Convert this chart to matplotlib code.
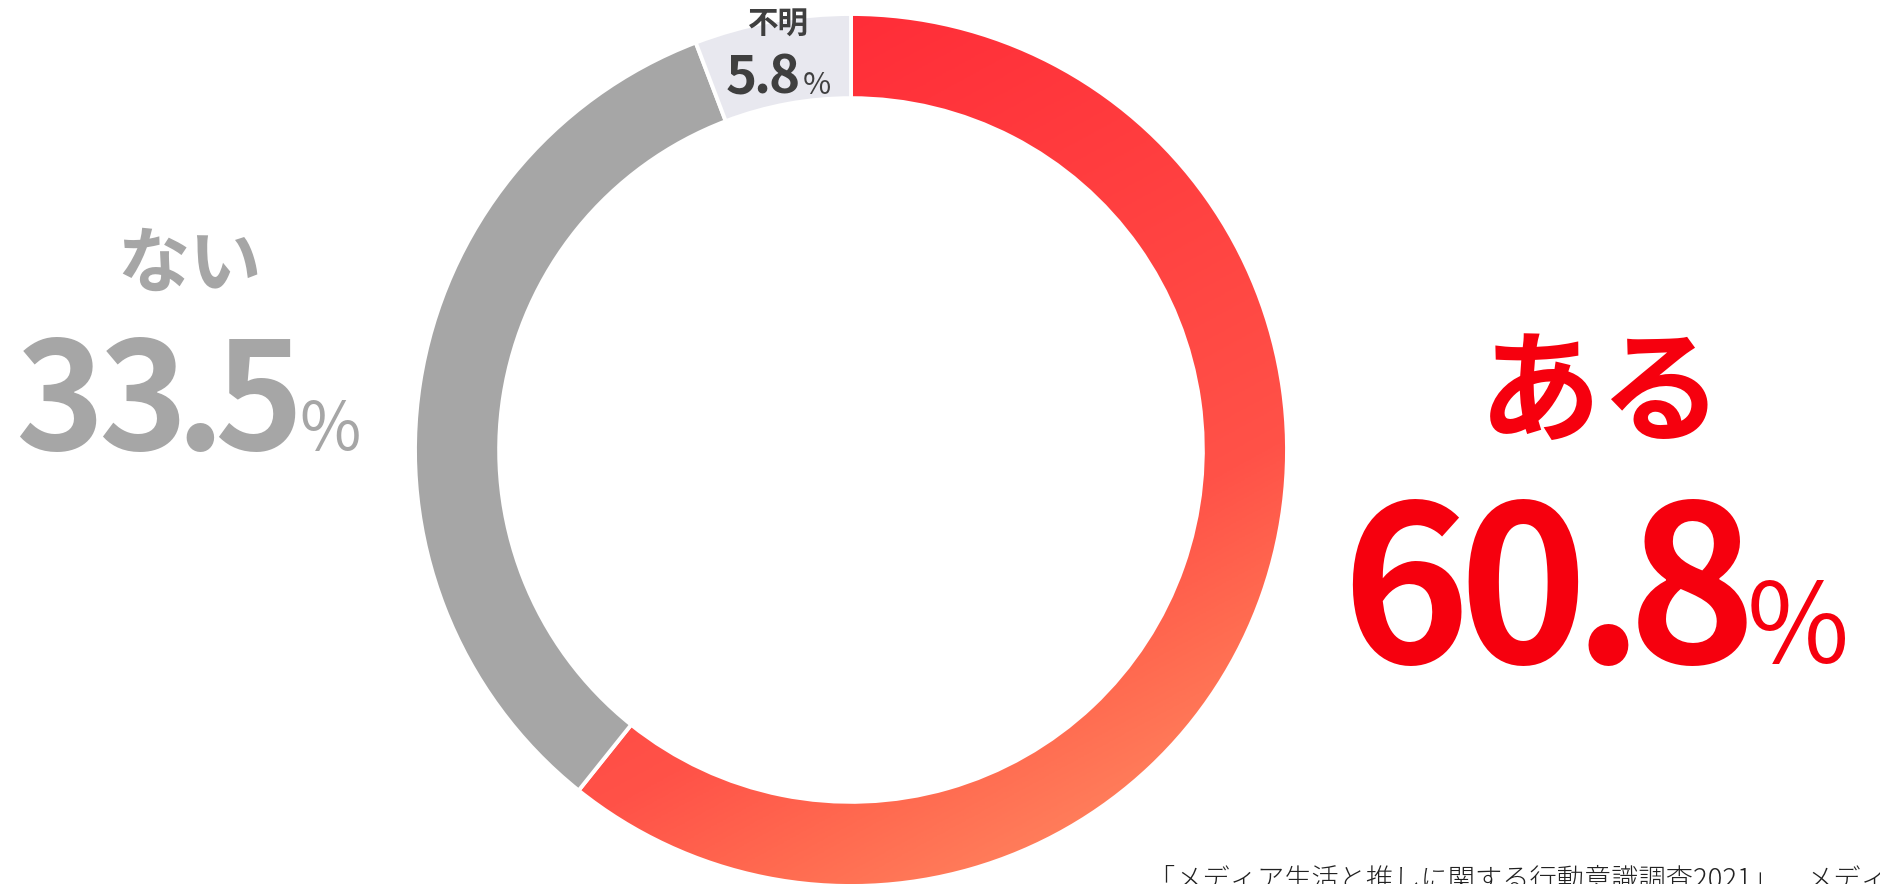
import matplotlib
matplotlib.use("Agg")
import matplotlib.pyplot as plt
import numpy as np
from matplotlib.colors import LinearSegmentedColormap

plt.rcParams["font.family"] = ["Noto Sans CJK JP", "DejaVu Sans"]

# answer shares
labels = ["ある", "ない", "不明"]
values = [60.8, 33.5, 5.8]
value_texts = ["60.8", "33.5", "5.8"]
source = "「メディア生活と推しに関する行動意識調査2021」　メディア環境研究所"

W, H = 1881, 884
fig = plt.figure(figsize=(W / 100, H / 100), dpi=100)
fig.patch.set_facecolor("white")

# donut axes placed in pixels
cx, cy, R = 851, 450, 436
ax = fig.add_axes([(cx - R) / W, (H - cy - R) / H, 2 * R / W, 2 * R / H])
ax.set_aspect("equal")
ax.axis("off")

wedges, _ = ax.pie(values, startangle=90, counterclock=False, radius=1,
                   colors=["#FF3A3F", "#A6A6A6", "#E8E8EF"],
                   wedgeprops=dict(width=0.193, edgecolor="white",
                                   linewidth=2.8))
ax.set_xlim(-1, 1)
ax.set_ylim(-1, 1)

# diagonal red-to-coral gradient inside the first segment
gx, gy = np.meshgrid(np.linspace(-1, 1, 600), np.linspace(-1, 1, 600))
proj = gx * 0.48 - gy * 0.88
grad_cmap = LinearSegmentedColormap.from_list(
    "grad", [(0.0, "#FF2834"), (0.06, "#FF2D38"), (0.73, "#FF5248"),
             (0.88, "#FF6A50"), (1.0, "#FF7C5A")])
img = ax.imshow(proj, cmap=grad_cmap, vmin=-1, vmax=1, origin="lower",
                extent=[-1, 1, -1, 1], zorder=0.5, interpolation="bilinear")
img.set_clip_path(wedges[0])
wedges[0].set_facecolor("none")
wedges[0].set_zorder(1)


def px(x, y):
    return x / W, 1 - y / H


def ink_span(ch, size, weight):
    # where the glyph's ink lands relative to the text anchor, in pixels
    sf = plt.figure(figsize=(6, 4), dpi=100)
    sf.text(0.1, 0.3, ch, fontsize=size, fontweight=weight, color="black",
            ha="left", va="baseline")
    sf.canvas.draw()
    a = np.asarray(sf.canvas.buffer_rgba())[:, :, 0]
    cols = np.where((a < 250).any(axis=0))[0]
    plt.close(sf)
    return cols.min() - 60, cols.max() + 1 - 60


def value_label(x, y, num, size, pct_size, color, gaps):
    # glyph-by-glyph numerals; gaps are ink-to-ink spaces, the last one
    # before the percent sign
    glyphs = [(ch, size, "bold") for ch in num] + [("%", pct_size, "normal")]
    for (ch, sz, wt), gap in zip(glyphs, [0] + list(gaps)):
        lo, hi = ink_span(ch, sz, wt)
        x += gap
        fig.text(*px(x - lo, y), ch, fontsize=sz, fontweight=wt,
                 color=color, ha="left", va="baseline")
        x += hi - lo


# ある
fig.text(*px(1601, 396), labels[0], fontsize=88, fontweight="bold",
         color="#F6000E", ha="center", va="center")
value_label(1352, 663, value_texts[0], 157, 80, "#F6000E", [6, 10, 8, 4])

# ない
fig.text(*px(190, 266), labels[1], fontsize=52, fontweight="bold",
         color="#A6A6A6", ha="center", va="center")
value_label(20, 450, value_texts[1], 108, 48, "#A6A6A6", [6, 6, 4, 6])

# 不明
fig.text(*px(778, 25), labels[2], fontsize=22, fontweight="bold",
         color="#3F3F3F", ha="center", va="center")
value_label(727, 94, value_texts[2], 38, 22, "#3F3F3F", [2, 3, 6])

fig.text(*px(1148, 866), source, fontsize=19.6, fontweight="light",
         color="#222222", ha="left", va="top")

fig.savefig("out.png", dpi=100, facecolor="white")
